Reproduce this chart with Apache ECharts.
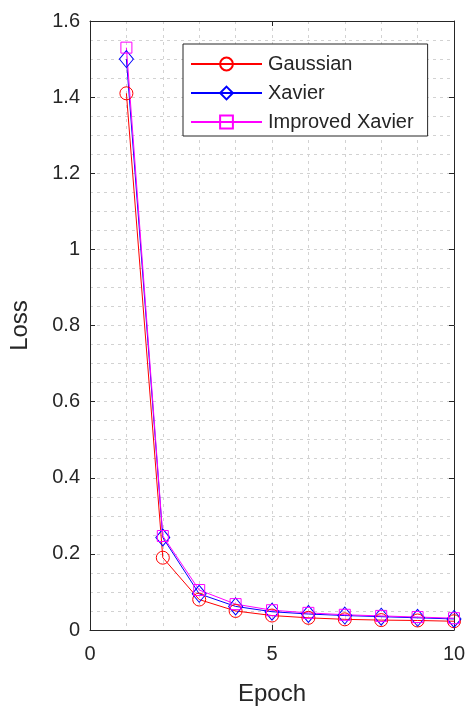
<!DOCTYPE html>
<html>
<head>
<meta charset="utf-8">
<title>Loss vs Epoch</title>
<script src="https://cdn.jsdelivr.net/npm/echarts@6/dist/echarts.min.js"></script>
<style>
  html, body { margin: 0; padding: 0; background: #fff; }
  #chart { width: 470px; height: 711px; }
</style>
</head>
<body>
<div id="chart"></div>
<script>
// Training loss per epoch for three weight initialisation schemes
const epochs = [1, 2, 3, 4, 5, 6, 7, 8, 9, 10];
const gaussian = [1.41, 0.19, 0.08, 0.05, 0.038, 0.032, 0.028, 0.026, 0.025, 0.023];
const xavier = [1.50, 0.243, 0.095, 0.062, 0.048, 0.042, 0.038, 0.035, 0.032, 0.029];
const improvedXavier = [1.53, 0.247, 0.105, 0.068, 0.052, 0.045, 0.040, 0.037, 0.034, 0.031];

const FONT = '"Liberation Sans", Arial, Helvetica, sans-serif';
const INK = '#262626';
const GRID = '#d2d2d2';

const chart = echarts.init(document.getElementById('chart'), null, { renderer: 'canvas' });

function pairs(ys) {
  return epochs.map((x, i) => [x, ys[i]]);
}

function lineSeries(name, ys, color, symbol, size) {
  return {
    name: name,
    type: 'line',
    data: pairs(ys),
    symbol: symbol,
    symbolSize: size,
    showSymbol: true,
    lineStyle: { color: color, width: 1 },
    itemStyle: { color: 'rgba(0,0,0,0)', borderColor: color, borderWidth: 1 },
    emphasis: { disabled: true },
    z: 3
  };
}

const splitDash = { show: true, lineStyle: { color: GRID, type: [3, 4], width: 1 } };

const option = {
  backgroundColor: '#fff',
  animation: false,
  grid: { left: 90, right: 16, top: 21, bottom: 79, containLabel: false },
  legend: {
    orient: 'vertical',
    left: 183,
    top: 44,
    itemWidth: 71,
    itemHeight: 16,
    itemGap: 9,
    padding: [10, 14, 4, 7],
    borderColor: INK,
    borderWidth: 1,
    backgroundColor: '#fff',
    textStyle: { fontFamily: FONT, fontSize: 20, color: INK, padding: [0, 0, 0, 1] },
    data: ['Gaussian', 'Xavier', 'Improved Xavier'],
    selectedMode: false
  },
  xAxis: [
    {
      type: 'value',
      min: 0, max: 10, interval: 5,
      name: 'Epoch',
      nameLocation: 'middle',
      nameGap: 52,
      nameTextStyle: { fontFamily: FONT, fontSize: 24, color: INK },
      axisLine: { show: true, onZero: false, lineStyle: { color: INK, width: 1 } },
      axisTick: { show: true, inside: true, length: 5, lineStyle: { color: INK } },
      axisLabel: { fontFamily: FONT, fontSize: 20, color: INK, margin: 14 },
      splitLine: splitDash,
      minorTick: { show: false, splitNumber: 5 },
      minorSplitLine: splitDash
    },
    {
      type: 'value',
      position: 'top',
      min: 0, max: 10, interval: 5,
      axisLine: { show: true, onZero: false, lineStyle: { color: INK, width: 1 } },
      axisTick: { show: true, inside: true, length: 5, lineStyle: { color: INK } },
      axisLabel: { show: false },
      splitLine: { show: false }
    }
  ],
  yAxis: [
    {
      type: 'value',
      min: 0, max: 1.6, interval: 0.2,
      name: 'Loss',
      nameLocation: 'middle',
      nameGap: 58,
      nameTextStyle: { fontFamily: FONT, fontSize: 24, color: INK },
      axisLine: { show: true, onZero: false, lineStyle: { color: INK, width: 1 } },
      axisTick: { show: true, inside: true, length: 5, lineStyle: { color: INK } },
      axisLabel: { fontFamily: FONT, fontSize: 20, color: INK, margin: 10 },
      splitLine: splitDash,
      minorTick: { show: false, splitNumber: 4 },
      minorSplitLine: splitDash
    },
    {
      type: 'value',
      position: 'right',
      min: 0, max: 1.6, interval: 0.2,
      axisLine: { show: true, onZero: false, lineStyle: { color: INK, width: 1 } },
      axisTick: { show: true, inside: true, length: 5, lineStyle: { color: INK } },
      axisLabel: { show: false },
      splitLine: { show: false }
    }
  ],
  series: [
    lineSeries('Gaussian', gaussian, '#ff0000', 'circle', 13),
    lineSeries('Xavier', xavier, '#0000ff', 'diamond', [14, 17]),
    lineSeries('Improved Xavier', improvedXavier, '#ff00ff', 'rect', 11)
  ]
};

chart.setOption(option);
</script>
</body>
</html>
